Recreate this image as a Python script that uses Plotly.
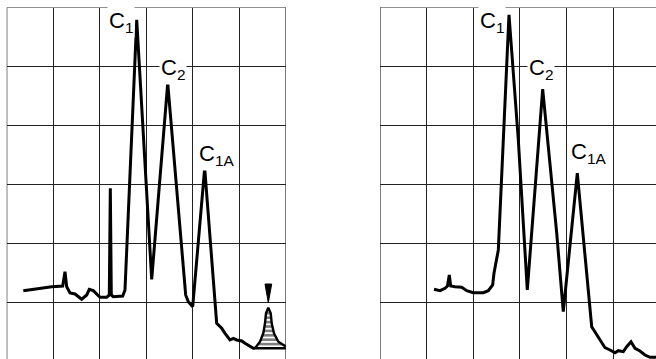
import plotly.graph_objects as go

# Chromatogram traces, in chart-grid divisions (time, detector signal)
left_time = [0.357, 0.967, 1.203, 1.252, 1.289, 1.360, 1.467, 1.611, 1.719, 1.774, 1.860,
             2.004, 2.148, 2.204, 2.226, 2.247, 2.290, 2.492, 2.541, 2.793, 3.115, 3.459,
             3.845, 3.901, 3.996, 4.253, 4.511, 4.619, 4.690, 4.797, 4.868, 4.941, 5.050,
             5.119, 5.298, 5.334]
left_signal = [1.194, 1.261, 1.273, 1.516, 1.261, 1.155, 1.138, 1.048, 1.121, 1.217, 1.194,
               1.081, 1.081, 1.121, 2.932, 1.121, 1.092, 1.104, 1.205, 5.789, 1.387, 4.715,
               1.121, 1.007, 0.922, 3.272, 0.640, 0.555, 0.470, 0.357, 0.385, 0.357, 0.340,
               0.301, 0.216, 0.216]

right_time = [1.159, 1.288, 1.395, 1.448, 1.487, 1.517, 1.609, 1.753, 1.861, 2.002, 2.217,
              2.324, 2.418, 2.446, 2.539, 2.646, 2.768, 2.968, 3.161, 3.491, 3.792, 3.933,
              4.234, 4.543, 4.614, 4.721, 4.828, 4.936, 5.043, 5.114, 5.221, 5.294, 5.386,
              5.472, 5.579, 5.687, 5.794, 5.966]
right_signal = [1.217, 1.194, 1.234, 1.273, 1.460, 1.273, 1.261, 1.251, 1.194, 1.160, 1.160,
                1.194, 1.290, 1.489, 1.885, 3.871, 5.874, 3.752, 1.205, 4.613, 2.173, 0.837,
                3.187, 0.582, 0.497, 0.357, 0.226, 0.187, 0.141, 0.175, 0.158, 0.243, 0.328,
                0.216, 0.170, 0.102, 0.063, 0.063]

# Hatched reference peak (left chart)
peak_time = [5.334, 5.441, 5.512, 5.549, 5.570, 5.620, 5.672, 5.693, 5.742, 5.835, 5.979,
             6.000, 6.000, 5.334]
peak_signal = [0.216, 0.328, 0.470, 0.640, 0.810, 0.905, 0.810, 0.640, 0.470, 0.328, 0.255,
               0.240, 0.216, 0.216]

# Injection marker (down-pointing wedge)
marker_time = [5.549, 5.693, 5.620, 5.549]
marker_signal = [1.307, 1.307, 0.990, 1.307]

# Peak labels
label_text = ["C<sub>1</sub>", "C<sub>2</sub>", "C<sub>1A</sub>"]
left_label_time = [2.150, 3.270, 4.090]
left_label_signal = [5.76, 4.955, 3.50]
right_label_time = [2.100, 3.155, 4.055]
right_label_signal = [5.76, 4.955, 3.53]

W, H = 656, 359
GRID = "#222222"
FONT = "Liberation Sans, Arial, sans-serif"

fig = go.Figure()
line_style = dict(color="black", width=3)

fig.add_trace(go.Scatter(x=left_time, y=left_signal, mode="lines", line=line_style,
                         xaxis="x", yaxis="y", hoverinfo="skip"))
fig.add_trace(go.Scatter(x=peak_time, y=peak_signal, mode="lines", line=dict(color="black", width=2.4),
                         fill="toself", fillcolor="white",
                         fillpattern=dict(shape="-", size=4.4, solidity=0.6, fgcolor="black", bgcolor="white"),
                         xaxis="x", yaxis="y", hoverinfo="skip"))
fig.add_trace(go.Scatter(x=marker_time, y=marker_signal, mode="lines", line=dict(color="black", width=1),
                         fill="toself", fillcolor="black", xaxis="x", yaxis="y", hoverinfo="skip"))
fig.add_trace(go.Scatter(x=right_time, y=right_signal, mode="lines", line=line_style,
                         xaxis="x2", yaxis="y2", hoverinfo="skip"))

yr = [0.034, 6.0]
ydom = [0, 1 - 7.5 / H]
axis_common = dict(showgrid=True, gridcolor=GRID, gridwidth=1, zeroline=False, showline=False,
                   showticklabels=False, ticks="", tick0=0, dtick=1, fixedrange=True)

fig.update_layout(
    width=W, height=H, margin=dict(l=0, r=0, t=0, b=0),
    paper_bgcolor="white", plot_bgcolor="white", showlegend=False,
    xaxis=dict(domain=[6.7 / W, 286 / W], range=[0, 6], **axis_common),
    yaxis=dict(domain=ydom, range=yr, **axis_common),
    xaxis2=dict(domain=[380 / W, 1], range=[0, (W - 380) / 46.6], **axis_common),
    yaxis2=dict(domain=ydom, range=yr, anchor="x2", **axis_common),
)

# panel borders (left, top, right edges of the chart paper)
shapes = []
for xr, yrf, xmax in (("x", "y", 6), ("x2", "y2", None)):
    shapes.append(dict(type="line", xref=xr, yref=yrf, x0=0, x1=0, y0=yr[0], y1=6, line=dict(color=GRID, width=1.2)))
    shapes.append(dict(type="line", xref=xr, yref=yrf, x0=0, x1=xmax if xmax else 6, y0=6, y1=6, line=dict(color=GRID, width=1.2)))
    if xmax:
        shapes.append(dict(type="line", xref=xr, yref=yrf, x0=xmax, x1=xmax, y0=yr[0], y1=6, line=dict(color=GRID, width=1.2)))
fig.update_layout(shapes=shapes)

anns = []
for xs, ys, xr, yrf in ((left_label_time, left_label_signal, "x", "y"),
                        (right_label_time, right_label_signal, "x2", "y2")):
    for t, xv, yv in zip(label_text, xs, ys):
        anns.append(dict(text=t, x=xv, y=yv, xref=xr, yref=yrf, xanchor="left", yanchor="middle",
                         showarrow=False, bgcolor="white", borderpad=1,
                         font=dict(family=FONT, size=22, color="black")))
fig.update_layout(annotations=anns)

fig.write_html("out.html", config={"displayModeBar": False},
               post_script="document.body.style.margin='0';document.body.style.overflow='hidden';")
